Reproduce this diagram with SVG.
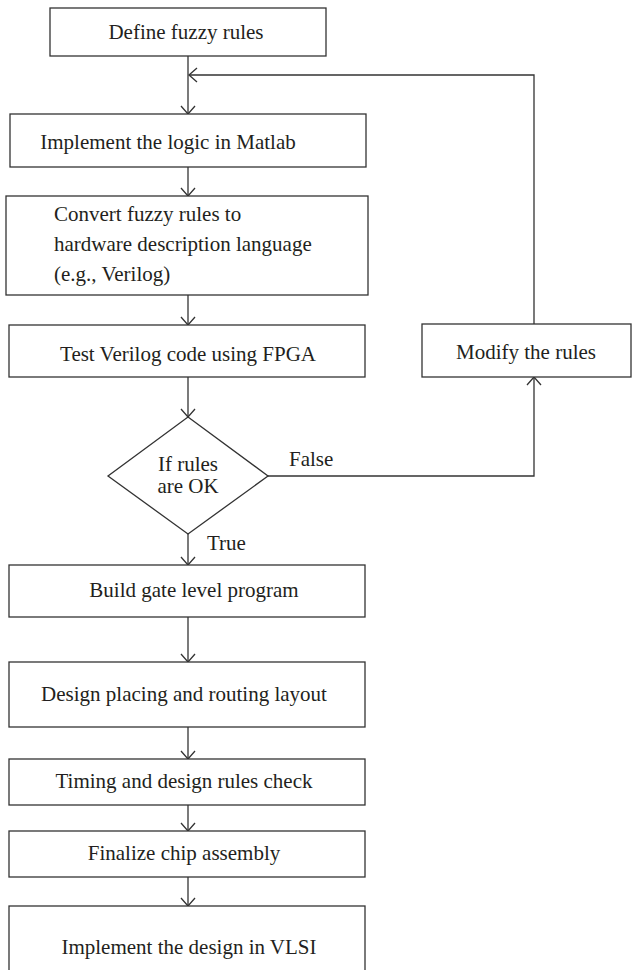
<svg xmlns="http://www.w3.org/2000/svg" width="632" height="970" viewBox="0 0 632 970">
<defs>
<style>
.box{fill:#fff;stroke:#333;stroke-width:1.3}
.t{font-family:"Liberation Serif","Times New Roman",serif;font-size:21px;fill:#231f20}
.c{text-anchor:middle}
.ln{fill:none;stroke:#333;stroke-width:1.3}
</style>
<marker id="ah" viewBox="0 0 10 16" refX="9" refY="8" markerWidth="10" markerHeight="16" markerUnits="userSpaceOnUse" orient="auto">
<path d="M1,1 L9,8 L1,15" fill="none" stroke="#333" stroke-width="1.3"/>
</marker>
</defs>
<rect width="632" height="970" fill="#fff"/>
<g id="connectors">
<line class="ln" x1="188" y1="56" x2="188" y2="114" marker-end="url(#ah)"/>
<line class="ln" x1="188" y1="167" x2="188" y2="196" marker-end="url(#ah)"/>
<line class="ln" x1="188" y1="295" x2="188" y2="325" marker-end="url(#ah)"/>
<line class="ln" x1="188" y1="377" x2="188" y2="417" marker-end="url(#ah)"/>
<line class="ln" x1="188" y1="534" x2="188" y2="565" marker-end="url(#ah)"/>
<line class="ln" x1="188" y1="617" x2="188" y2="662" marker-end="url(#ah)"/>
<line class="ln" x1="188" y1="727" x2="188" y2="759" marker-end="url(#ah)"/>
<line class="ln" x1="188" y1="805" x2="188" y2="831" marker-end="url(#ah)"/>
<line class="ln" x1="188" y1="877" x2="188" y2="906" marker-end="url(#ah)"/>
<polyline class="ln" points="268,476 534,476 534,377" marker-end="url(#ah)"/>
<polyline class="ln" points="534,324 534,75 189,75" marker-end="url(#ah)"/>
<text class="t" x="289" y="466">False</text>
<text class="t" x="207" y="550">True</text>
</g>
<g id="n1"><rect class="box" x="50" y="8" width="276" height="48"/><text class="t c" x="186" y="39">Define fuzzy rules</text></g>
<g id="n2"><rect class="box" x="10" y="114" width="356" height="53"/><text class="t c" x="168" y="149">Implement the logic in Matlab</text></g>
<g id="n3"><rect class="box" x="6" y="196" width="362" height="99"/><text class="t" x="54" y="221">Convert fuzzy rules to</text><text class="t" x="54" y="251">hardware description language</text><text class="t" x="54" y="281">(e.g., Verilog)</text></g>
<g id="n4"><rect class="box" x="9" y="325" width="356" height="52"/><text class="t c" x="188" y="361">Test Verilog code using FPGA</text></g>
<g id="n5"><polygon class="box" points="188,417 268,476 188,534 108,476"/><text class="t c" x="188" y="471">If rules</text><text class="t c" x="188" y="493">are OK</text></g>
<g id="n6"><rect class="box" x="422" y="324" width="209" height="53"/><text class="t c" x="526" y="359">Modify the rules</text></g>
<g id="n7"><rect class="box" x="9" y="565" width="356" height="52"/><text class="t c" x="194" y="597">Build gate level program</text></g>
<g id="n8"><rect class="box" x="9" y="662" width="356" height="65"/><text class="t c" x="184" y="701">Design placing and routing layout</text></g>
<g id="n9"><rect class="box" x="9" y="759" width="356" height="46"/><text class="t c" x="184" y="788">Timing and design rules check</text></g>
<g id="n10"><rect class="box" x="9" y="831" width="356" height="46"/><text class="t c" x="184" y="860">Finalize chip assembly</text></g>
<g id="n11"><rect class="box" x="9" y="906" width="356" height="90"/><text class="t c" x="189" y="954">Implement the design in VLSI</text></g>
</svg>
